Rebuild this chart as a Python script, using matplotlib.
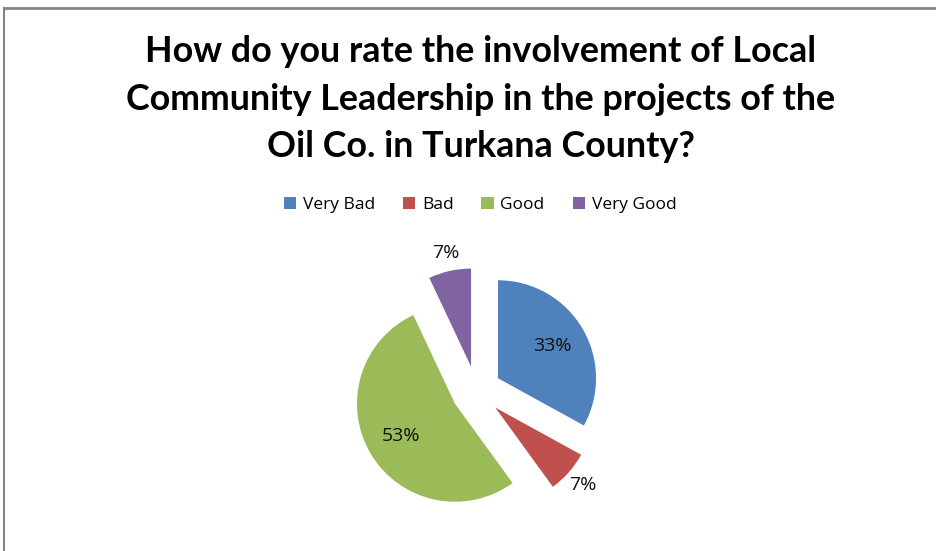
import matplotlib.pyplot as plt
from matplotlib.lines import Line2D
import numpy as np

labels = ["Very Bad", "Bad", "Good", "Very Good"]
values = [33, 7, 53, 7]
colors = ["#4F81BD", "#C0504D", "#9BBB59", "#8064A2"]
title_lines = ["How do you rate the involvement of Local",
               "Community Leadership in the projects of the",
               "Oil Co. in Turkana County?"]

W, H = 936, 551
fig = plt.figure(figsize=(W / 100, H / 100), dpi=100)
ax = fig.add_axes([0, 0, 1, 1])

# pie drawn in pixel-sized data units
r = 98
wedges, texts, autotexts = ax.pie(values, colors=colors, startangle=90, counterclock=False,
                                  radius=r, center=(476.5, H - 391), explode=[25] * 4,
                                  autopct='%1.0f%%', pctdistance=0.64,
                                  wedgeprops=dict(linewidth=0),
                                  textprops=dict(fontsize=14, family='Open Sans', color='#111111'))
ax.set_xlim(0, W)
ax.set_ylim(0, H)
ax.axis('off')

# small slices get their labels outside
for w, t, v in zip(wedges, autotexts, values):
    if v < 10:
        th = np.deg2rad((w.theta1 + w.theta2) / 2)
        cx, cy = w.center
        t.set_position((cx + 1.19 * r * np.cos(th), cy + 1.19 * r * np.sin(th)))

for i, line in enumerate(title_lines):
    y = [62, 110, 157][i]
    fig.text(481 / W, 1 - y / H, line, ha='center', va='baseline',
             fontsize=25.8, fontweight='bold', family='Lato')

fig.legend(wedges, labels, loc='center', bbox_to_anchor=(480 / W, 1 - 205 / H), ncol=4,
           frameon=False, handlelength=0.7, handleheight=0.7, handletextpad=0.4,
           columnspacing=1.6, prop=dict(family='Open Sans', size=12.5))

fig.add_artist(Line2D([4 / W, 1], [1 - 8 / H, 1 - 8 / H], color='#858585', lw=2))
fig.add_artist(Line2D([4 / W, 4 / W], [0, 1 - 8 / H], color='#858585', lw=1.5))

plt.savefig("out.png", dpi=100)
